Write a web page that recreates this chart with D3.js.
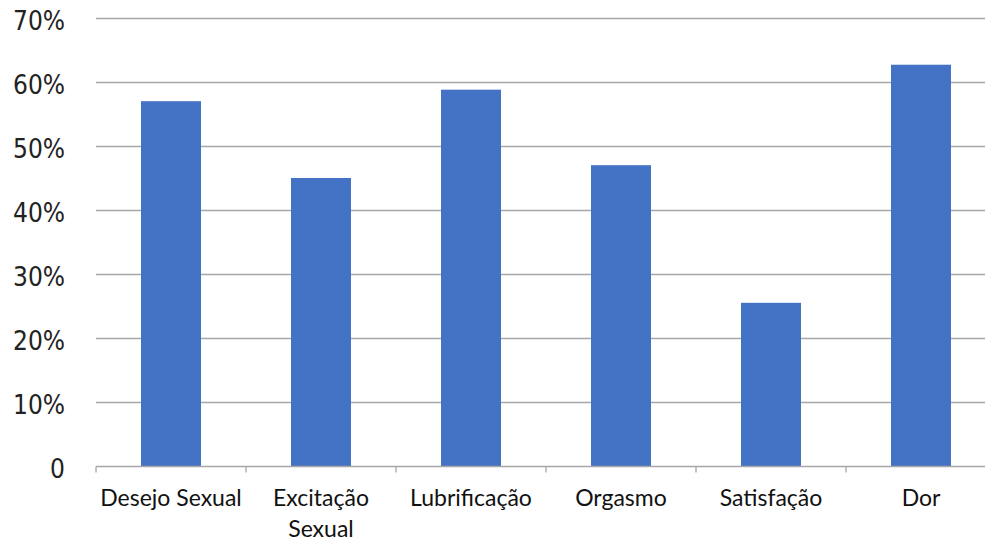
<!DOCTYPE html>
<html>
<head>
<meta charset="utf-8">
<script src="https://cdn.jsdelivr.net/npm/d3@7"></script>
<style>
  body { margin: 0; background: #fff; overflow: hidden; }
  svg { display: block; }
</style>
</head>
<body>
<svg id="chart" width="985" height="542"></svg>
<script>
// domains
const categories = ['Desejo Sexual', 'Excitação Sexual', 'Lubrificação', 'Orgasmo', 'Satisfação', 'Dor'];
const values = [0.57, 0.45, 0.588, 0.47, 0.255, 0.627];
const yTicks = [0, 0.1, 0.2, 0.3, 0.4, 0.5, 0.6, 0.7];

const svg = d3.select('#chart');
const margin = { left: 96, right: -11, top: 18, bottom: 76 };
const W = 985, H = 542;

const x = d3.scaleBand()
  .domain(categories)
  .range([margin.left, W - margin.right])
  .paddingInner(0.6)
  .paddingOuter(0.3);

const y = d3.scaleLinear()
  .domain([0, 0.7])
  .range([H - margin.bottom, margin.top]);

// gridlines
svg.append('g')
  .selectAll('line')
  .data(yTicks.slice(1))
  .join('line')
  .attr('x1', margin.left)
  .attr('x2', W)
  .attr('y1', d => Math.round(y(d)) + 0.5)
  .attr('y2', d => Math.round(y(d)) + 0.5)
  .attr('stroke', '#a6a6a6')
  .attr('stroke-width', 1.3);

// y labels
svg.append('g')
  .selectAll('text')
  .data(yTicks)
  .join('text')
  .attr('x', 65)
  .attr('y', d => y(d) + 12)
  .attr('text-anchor', 'end')
  .attr('font-family', '"DejaVu Sans Condensed", "DejaVu Sans", sans-serif')
  .attr('font-size', 26)
  .attr('fill', '#222')
  .text(d => d === 0 ? '0' : Math.round(d * 100) + '%');

// bars
svg.append('g')
  .selectAll('rect')
  .data(values)
  .join('rect')
  .attr('x', (d, i) => x(categories[i]))
  .attr('y', d => y(d))
  .attr('width', x.bandwidth())
  .attr('height', d => y(0) - y(d))
  .attr('fill', '#4472c4');

// x axis
const xAxis = d3.axisBottom(x).tickSize(0).tickFormat('');
const gx = svg.append('g')
  .attr('transform', `translate(0,${Math.round(y(0)) + 0.5})`)
  .call(xAxis);
gx.select('.domain').remove();
gx.append('line')
  .attr('x1', margin.left).attr('x2', W)
  .attr('stroke', '#a6a6a6').attr('stroke-width', 1.3);

// category boundary ticks
const step = x.step();
const bounds = d3.range(categories.length + 1).map(i => x(categories[0]) - step * 0.3 + i * step);
gx.selectAll('line.tk')
  .data(bounds)
  .join('line')
  .attr('class', 'tk')
  .attr('x1', d => d).attr('x2', d => d)
  .attr('y1', 0).attr('y2', 6)
  .attr('stroke', '#a6a6a6').attr('stroke-width', 1.3);

// category labels (wrapped as in the original)
const lines = {
  'Excitação Sexual': ['Excitação', 'Sexual']
};
const lab = svg.append('g')
  .attr('font-family', 'Lato, "Open Sans", sans-serif')
  .attr('font-size', 23)
  .attr('fill', '#111')
  .attr('text-anchor', 'middle');
categories.forEach(c => {
  const t = lab.append('text')
    .attr('x', x(c) + x.bandwidth() / 2)
    .attr('y', 506);
  (lines[c] || [c]).forEach((s, j) => {
    t.append('tspan')
      .attr('x', x(c) + x.bandwidth() / 2)
      .attr('dy', j === 0 ? 0 : 31)
      .text(s);
  });
});
</script>
</body>
</html>
